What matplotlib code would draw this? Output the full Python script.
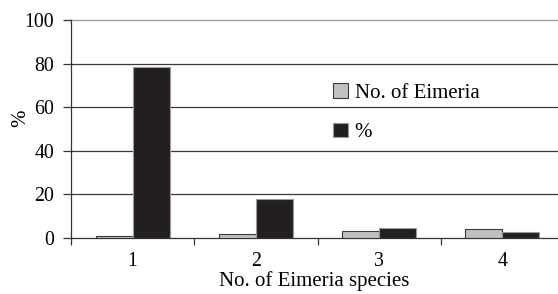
import matplotlib
matplotlib.use("Agg")
import matplotlib.pyplot as plt
import numpy as np

# data
species = ["1", "2", "3", "4"]
n_eimeria = [1, 2, 3, 4]
percent = [78.5, 17.7, 4.4, 2.7]

plt.rcParams["font.family"] = ["Liberation Serif", "DejaVu Serif"]

fig = plt.figure(figsize=(5.58, 2.94), dpi=100)
# right edge of the plot runs a little past the image, as in the reference
ax = fig.add_axes([71 / 558, 1 - 238 / 294, (564 - 71) / 558, (238 - 20) / 294])

x = np.arange(len(species))
w = 0.3
ax.bar(x - w / 2, n_eimeria, w, color="#c0c0c0", edgecolor="#3a3a3a", linewidth=0.8,
       label="No. of Eimeria", zorder=3)
ax.bar(x + w / 2, percent, w, color="#231f20", edgecolor="#9a9a9a", linewidth=0.8,
       label="%", zorder=3)

ax.set_xlim(-0.5, len(species) - 0.5)
ax.set_ylim(0, 100)
ax.set_yticks([0, 20, 40, 60, 80, 100])
ax.set_xticks(x)
ax.set_xticklabels(species)
ax.set_xticks(np.arange(-0.5, len(species) - 0.5, 1.0), minor=True)
ax.tick_params(axis="x", which="major", length=0, labelsize=14.3, pad=10)
ax.tick_params(axis="x", which="minor", length=5, width=0.9, color="#333333", direction="out")
ax.tick_params(axis="y", length=6, width=0.9, color="#333333", labelsize=14.3, pad=6)

for v in [20, 40, 60, 80]:
    ax.axhline(v, color="#3a3a3a", linewidth=0.9, zorder=0)
ax.axhline(100, color="#a0a0a0", linewidth=1.0, zorder=0, clip_on=False)
for s in ["top", "right"]:
    ax.spines[s].set_visible(False)
ax.spines["left"].set_color("#333333")
ax.spines["bottom"].set_color("#333333")
ax.spines["left"].set_linewidth(0.9)
ax.spines["bottom"].set_linewidth(0.9)

ax_w = (564 - 71)
ax.set_ylabel("%", fontsize=15)
ax.yaxis.set_label_coords((30 - 71) / ax_w, 0.55)
ax.set_xlabel("No. of Eimeria species", fontsize=15)
ax.xaxis.set_label_coords((314 - 71) / ax_w, (238 - 291) / 218)
ax.xaxis.label.set_va("bottom")

ax.legend(loc="upper left", bbox_to_anchor=(325 / 558, 1 - 75 / 294), bbox_transform=fig.transFigure,
          frameon=False, fontsize=15, handlelength=0.72, handleheight=0.7, handletextpad=0.3,
          labelspacing=0.95, borderaxespad=0)

fig.savefig("out.png", dpi=100)
